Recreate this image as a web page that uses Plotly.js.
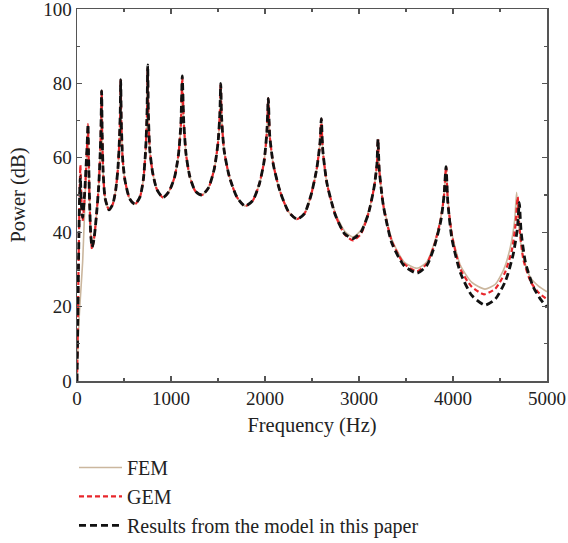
<!DOCTYPE html>
<html>
<head>
<meta charset="utf-8">
<script src="https://cdn.plot.ly/plotly-3.0.1.min.js"></script>
<style>html,body{margin:0;padding:0;background:#fff;}#chart{width:568px;height:543px;}</style>
</head>
<body>
<div id="chart"></div>
<script>
// Frequency (Hz) and power (dB)
const femFreq = [0, 10, 25, 40, 60, 80, 95, 105, 112, 117, 122, 132, 145, 160, 180, 205, 230, 245, 255, 262, 268, 280, 300, 340, 380, 410, 435, 450, 460, 465, 471, 485, 510, 560, 617, 670, 705, 730, 745, 752, 759, 775, 805, 850, 915, 980, 1040, 1080, 1105, 1120, 1135, 1160, 1200, 1260, 1330, 1400, 1460, 1500, 1520, 1529, 1538, 1565, 1620, 1700, 1787, 1870, 1940, 1990, 2020, 2035, 2050, 2090, 2160, 2250, 2340, 2420, 2490, 2550, 2585, 2599, 2615, 2660, 2750, 2850, 2936, 3020, 3100, 3160, 3190, 3202, 3215, 3260, 3350, 3480, 3617, 3720, 3800, 3870, 3905, 3926, 3945, 3990, 4080, 4200, 4340, 4450, 4540, 4610, 4655, 4677, 4695, 4740, 4820, 4910, 5000];
const femPower = [0, 10, 18, 24, 32, 45, 56, 62, 66, 69, 62, 50, 40, 36, 38, 44, 52, 60, 68, 78, 66, 55, 49, 46, 47.5, 51, 57, 64, 72, 81, 70, 60, 54, 49, 47.5, 49.5, 54, 62, 72, 84, 72, 62, 56, 51.5, 49.3, 51, 55, 61, 69, 81.5, 70, 61, 55, 51, 50, 52, 57, 64, 72, 80, 71, 62, 55, 49.5, 47, 48.5, 53, 59, 67, 76, 66, 58, 51, 45.5, 43.5, 45, 50, 57, 64, 70.5, 62, 53, 45, 40.2, 38.7, 40.5, 45.5, 52, 58, 65, 57, 47.5, 38, 32, 30.3, 32, 37, 44, 50, 57.6, 49, 39.5, 31, 26.5, 24.7, 26, 30, 36, 43, 50.7, 43, 34, 28, 25.5, 24];

const gemFreq = [0, 8, 18, 28, 36, 45, 60, 80, 95, 105, 112, 117, 122, 132, 145, 160, 180, 205, 230, 245, 255, 262, 268, 280, 300, 340, 380, 410, 435, 450, 460, 465, 471, 485, 510, 560, 617, 670, 705, 730, 745, 752, 759, 775, 805, 850, 915, 980, 1040, 1080, 1105, 1120, 1135, 1160, 1200, 1260, 1330, 1400, 1460, 1500, 1520, 1529, 1538, 1565, 1620, 1700, 1787, 1870, 1940, 1990, 2020, 2035, 2050, 2090, 2160, 2250, 2340, 2420, 2490, 2550, 2585, 2599, 2615, 2660, 2750, 2850, 2936, 3020, 3100, 3160, 3190, 3202, 3215, 3260, 3350, 3480, 3617, 3720, 3800, 3870, 3905, 3926, 3945, 3990, 4080, 4200, 4330, 4450, 4550, 4625, 4665, 4688, 4705, 4750, 4830, 4920, 5000];
const gemPower = [0, 14, 34, 50, 58, 50, 43, 49, 56, 62, 66, 69, 62, 50, 40, 35.5, 38, 44, 52, 60, 68, 78, 66, 55, 49, 46, 47.5, 51, 57, 64, 72, 81, 70, 60, 54, 49, 47.5, 49.5, 54, 62, 72, 84, 72, 62, 56, 51.5, 49.3, 51, 55, 61, 69, 81.5, 70, 61, 55, 51, 50, 52, 57, 64, 72, 80, 71, 62, 55, 49.5, 47, 48.5, 53, 59, 67, 76, 66, 58, 51, 45.5, 43.5, 45, 50, 57, 64, 70.5, 62, 53, 44.5, 39.3, 37.8, 39.5, 45, 52, 58, 65, 57, 47, 37.5, 31.5, 29.5, 31.5, 36.5, 43.5, 50, 57.6, 48.5, 39, 30, 25.3, 23.3, 24.8, 29, 35, 42, 49.5, 42, 32.5, 26.5, 23.5, 22];

const modelFreq = [0, 8, 18, 28, 36, 45, 60, 80, 95, 105, 112, 117, 122, 132, 145, 160, 180, 205, 230, 245, 255, 262, 268, 280, 300, 340, 380, 410, 435, 450, 460, 465, 471, 485, 510, 560, 617, 670, 705, 730, 745, 752, 759, 775, 805, 850, 915, 980, 1040, 1080, 1105, 1120, 1135, 1160, 1200, 1260, 1330, 1400, 1460, 1500, 1520, 1529, 1538, 1565, 1620, 1700, 1787, 1870, 1940, 1990, 2020, 2035, 2050, 2090, 2160, 2250, 2340, 2420, 2490, 2550, 2585, 2599, 2615, 2660, 2750, 2850, 2936, 3020, 3100, 3160, 3190, 3202, 3215, 3260, 3350, 3480, 3617, 3720, 3800, 3870, 3905, 3926, 3945, 3990, 4080, 4200, 4340, 4450, 4560, 4640, 4685, 4705, 4725, 4770, 4850, 4930, 5000];
const modelPower = [0, 15, 35, 50, 55, 48, 44, 50, 57, 62, 66, 69, 62, 50, 40, 36, 38, 44, 52, 60, 68, 78, 66, 55, 49, 46, 47.5, 51, 57, 64, 72, 81, 70, 60, 54, 49, 47.5, 49.5, 54, 62, 72, 85, 72, 62, 56, 51.5, 49.3, 51, 55, 61, 69, 82, 70, 61, 55, 51, 50, 52, 57, 64, 72, 80, 71, 62, 55, 49.5, 47, 48.5, 53, 59, 67, 76, 66, 58, 51, 45.5, 43.5, 45, 50, 57, 64, 70.5, 62, 53, 44.5, 39.5, 38.3, 40, 45, 52, 58, 65, 57, 47, 37, 31, 29, 31, 36, 43, 50, 57.6, 48, 38, 29, 23, 20.4, 22, 27, 34, 41, 48, 40, 32, 25.5, 22, 19.8];

const seriesNames = ['FEM', 'GEM', 'Results from the model in this paper'];
const xTickVals = [0, 1000, 2000, 3000, 4000, 5000];
const yTickVals = [0, 20, 40, 60, 80, 100];

const serif = 'Liberation Serif, Times New Roman, serif';

const traces = [
  {x: femFreq, y: femPower, name: seriesNames[0], mode: 'lines', type: 'scatter',
   line: {color: '#cbb79e', width: 1.6, shape: 'spline', smoothing: 0.6}},
  {x: gemFreq, y: gemPower, name: seriesNames[1], mode: 'lines', type: 'scatter',
   line: {color: '#e8262b', width: 2.2, dash: '5px,3px', shape: 'spline', smoothing: 0.6}},
  {x: modelFreq, y: modelPower, name: seriesNames[2], mode: 'lines', type: 'scatter',
   line: {color: '#111111', width: 2.8, dash: '7px,4px', shape: 'spline', smoothing: 0.6}}
];

const axisCommon = {
  showline: true, linecolor: '#555555', linewidth: 1.5, mirror: 'allticks',
  ticks: 'inside', ticklen: 5, tickwidth: 1.2, tickcolor: '#555555',
  showgrid: false, zeroline: false, ticklabeloverflow: 'allow',
  tickfont: {family: serif, size: 19, color: '#222222'}
};

const layout = {
  width: 568, height: 543,
  margin: {l: 77, r: 21, t: 9, b: 162, autoexpand: false},
  paper_bgcolor: '#ffffff', plot_bgcolor: '#ffffff',
  font: {family: serif, size: 19, color: '#222222'},
  showlegend: true,
  xaxis: Object.assign({}, axisCommon, {
    range: [0, 5000], tickvals: xTickVals, ticktext: xTickVals.map(String),
    minor: {dtick: 500, tick0: 0, ticks: 'inside', ticklen: 3, tickcolor: '#555555', showgrid: false},
    title: {text: 'Frequency (Hz)', font: {family: serif, size: 20.5, color: '#222222'}, standoff: 9}
  }),
  yaxis: Object.assign({}, axisCommon, {
    range: [0, 100], tickvals: yTickVals, ticktext: yTickVals.map(String),
    minor: {dtick: 10, tick0: 0, ticks: 'inside', ticklen: 3, tickcolor: '#555555', showgrid: false},
    title: {text: 'Power (dB)', font: {family: serif, size: 20.5, color: '#222222'}, standoff: 12}
  }),
  legend: {
    x: -0.0064, xanchor: 'left', y: -0.18, yanchor: 'top',
    orientation: 'v', bgcolor: 'rgba(0,0,0,0)',
    font: {family: serif, size: 20, color: '#222222'},
    itemwidth: 43, tracegroupgap: 0, traceorder: 'normal'
  }
};

Plotly.newPlot('chart', traces, layout, {displayModeBar: false, staticPlot: true});
</script>
</body>
</html>
